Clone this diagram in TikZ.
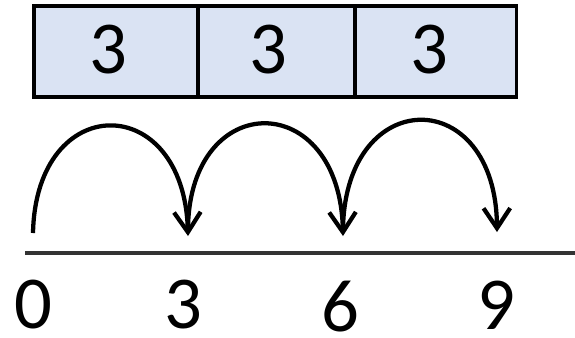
\documentclass[tikz,border=0pt]{standalone}
\usepackage{fontspec}
\setmainfont{Carlito}
\usetikzlibrary{arrows.meta}
\definecolor{boxfill}{HTML}{DAE3F3}
\tikzset{
  cell/.style={draw=black, line width=2.6pt, fill=boxfill, minimum height=68pt, inner sep=0pt, outer sep=0pt},
  numlbl/.style={inner sep=0pt, font=\fontsize{56}{60}\selectfont},
  jump/.style={line width=3.2pt, -{Straight Barb[length=15pt,width=20pt,line width=3.2pt]}}
}
\begin{document}
\begin{tikzpicture}[x=0.75pt,y=-0.75pt]
\useasboundingbox (0,0) rectangle (575,337);
% boxes
\node[cell, minimum width=123pt] (b1) at (116,51.5) {};
\node[cell, minimum width=118pt] (b2) at (276.5,51.5) {};
\node[cell, minimum width=121pt] (b3) at (436,51.5) {};
\node[numlbl] (t1) at (108,50) {3};
\node[numlbl] (t2) at (268,50) {3};
\node[numlbl] (t3) at (429,50) {3};
% number line
\shade[left color=black!80, middle color=black!45, right color=black!80] (25,251.5) rectangle (575,254.5);
% labels
\node[numlbl] (n0) at (33,305) {0};
\node[numlbl] (n3) at (183,305) {3};
\node[numlbl] (n6) at (340,307) {6};
\node[numlbl] (n9) at (496,305) {9};
% points
\coordinate (p0) at (33,233);
\coordinate (q3) at (188,228);
\coordinate (p3) at (188,236);
\coordinate (q6) at (343,228);
\coordinate (p6) at (343,236);
\coordinate (p9) at (497,232);
% jumps
\draw[jump] (p0) .. controls (36,90) and (184,90) .. (p3);
\draw[jump] (q3) .. controls (190,88) and (340,88) .. (p6);
\draw[jump] (q6) .. controls (346,84) and (496,84) .. (p9);
\end{tikzpicture}
\end{document}
